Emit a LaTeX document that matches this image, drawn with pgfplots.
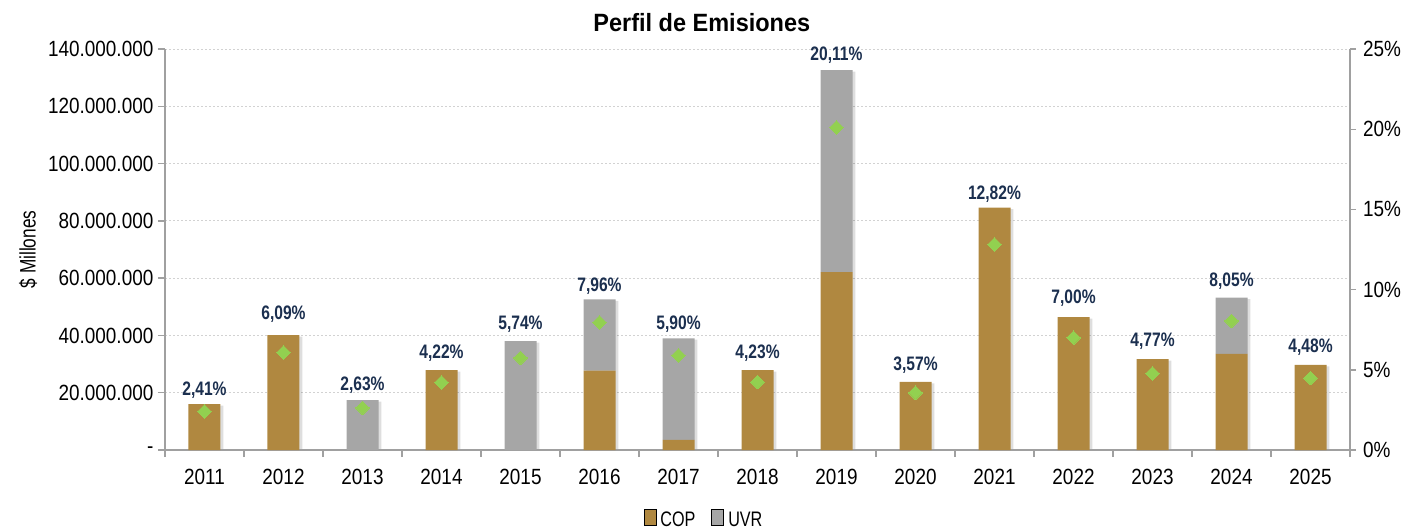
\documentclass[border=0pt]{standalone}
\usepackage{fontspec}
\setmainfont{Liberation Sans}[FakeStretch=0.77]
\newfontfamily\tickfont{Liberation Sans}[FakeStretch=0.86]
\newfontfamily\titlefont{Liberation Sans}[FakeStretch=0.94]
\newfontfamily\lblfont{Liberation Sans}[FakeStretch=0.8]
\usepackage{pgfplots}
\pgfplotsset{compat=1.18}
\usepackage{pgfplotstable}

\definecolor{cop}{RGB}{176,136,64}
\definecolor{uvr}{RGB}{166,166,166}
\definecolor{grn}{RGB}{146,208,80}
\definecolor{lbl}{RGB}{27,47,79}
\definecolor{axg}{RGB}{160,160,160}

\pgfplotstableread{
x cop uvr tot pct ly
0 16.0 0 16.0 2.41 19.2
1 40.1 0 40.1 6.09 45.7
2 0 17.4 17.4 2.63 20.9
3 27.9 0 27.9 4.22 31.8
4 0 38.0 38.0 5.74 41.9
5 27.7 24.9 52.6 7.96 55.3
6 3.5 35.5 39.0 5.90 41.9
7 27.9 0 27.9 4.23 31.8
8 62.1 70.5 132.6 20.11 136.1
9 23.8 0 23.8 3.57 27.6
10 84.6 0 84.6 12.82 87.6
11 46.4 0 46.4 7.00 51.0
12 31.7 0 31.7 4.77 36.1
13 33.6 19.6 53.2 8.05 57.2
14 29.7 0 29.7 4.48 33.9
}\data

\pgfplotsset{
  /pgf/number format/assume math mode=true,
  base/.style={
    at={(0,0)}, anchor=south west, scale only axis,
    width=592.5pt, height=200.5pt,
    xmin=-0.5, xmax=14.5,
    ticklabel style={font=\tickfont\fontsize{11}{13}\selectfont, text=black},
  },
  sqlegend/.style={legend image code/.code={\fill[##1] (0pt,-2.7pt) rectangle (5.4pt,2.7pt);}},
}

\begin{document}
\begin{tikzpicture}
\useasboundingbox (-82.5pt,-40.5pt) rectangle (620.5pt,225pt);

% shadows and grid
\begin{axis}[base, ybar, bar width=16pt, bar shift=1.4pt,
  ymin=0, ymax=140,
  xtick=\empty, ytick={20,40,...,140}, yticklabels={},
  ymajorgrids, major grid style={gray!35, line width=0.5pt, dash pattern=on 1pt off 1pt},
  axis line style={draw=none}, major tick length=0pt]
\addplot[fill=black, draw=none, opacity=0.13] table[x=x, y expr=\thisrow{tot}-0.5]{\data};
\end{axis}

% main stacked bars
\begin{axis}[base, sqlegend, ybar stacked, bar width=16pt,
  ymin=0, ymax=140,
  axis x line*=bottom, axis y line*=left,
  axis line style={axg, line width=0.7pt},
  tick align=outside,
  xtick={0,...,14},
  xticklabels={2011,2012,2013,2014,2015,2016,2017,2018,2019,2020,2021,2022,2023,2024,2025},
  xticklabel style={yshift=-2.5pt},
  yticklabel style={xshift=1.2pt},
  major x tick style={draw=none},
  minor xtick={-0.5,0.5,...,14.5},
  minor tick length=3.5pt, major tick length=3.5pt,
  every tick/.style={axg, line width=0.7pt},
  ytick={0,20,...,140},
  yticklabels={-,20.000.000,40.000.000,60.000.000,80.000.000,100.000.000,120.000.000,140.000.000},
  ylabel={\$ Millones},
  every axis y label/.style={at={(axis description cs:-0.1156,0.5)}, rotate=90, anchor=center, font=\fontsize{11.2}{13}\selectfont},
  title={\textbf{Perfil de Emisiones}},
  every axis title/.style={at={(axis description cs:0.453,1.067)}, anchor=center, font=\titlefont\fontsize{12.5}{14}\selectfont},
  legend style={at={(axis description cs:0.4557,-0.177)}, anchor=center, draw=none, fill=none,
    legend columns=2, font=\fontsize{10.5}{12}\selectfont,
    /tikz/every even column/.append style={column sep=6pt},
    legend cell align=left},
]
\addplot[fill=cop, draw=none] table[x=x, y=cop]{\data};
\addplot[fill=uvr, draw=none] table[x=x, y=uvr]{\data};
\legend{COP, UVR}
\end{axis}

% right axis with diamonds
\begin{axis}[base, ymin=0, ymax=25,
  axis x line=none, axis y line*=right,
  axis line style={axg, line width=0.7pt},
  tick align=outside, major tick length=3pt,
  every tick/.style={axg, line width=0.7pt},
  ytick={0,5,...,25},
  yticklabels={0\%,5\%,10\%,15\%,20\%,25\%},
  clip=false]
\addplot[only marks, color=grn, mark=square*, mark size=2.4pt,
  mark options={rotate=45, fill=grn, draw=grn, line width=0pt}] table[x=x, y=pct]{\data};
\end{axis}

% labels
\begin{axis}[base, ymin=0, ymax=140, hide axis, clip=false]
\addplot[draw=none, mark=none, nodes near coords,
  point meta=\thisrow{pct},
  nodes near coords={\pgfmathprintnumber[fixed, fixed zerofill, precision=2, use comma]{\pgfplotspointmeta}\%},
  every node near coord/.style={anchor=base, inner sep=0pt, text=lbl,
    font=\lblfont\bfseries\fontsize{9.75}{11}\selectfont}]
  table[x=x, y=ly]{\data};
\end{axis}
\end{tikzpicture}
\end{document}
